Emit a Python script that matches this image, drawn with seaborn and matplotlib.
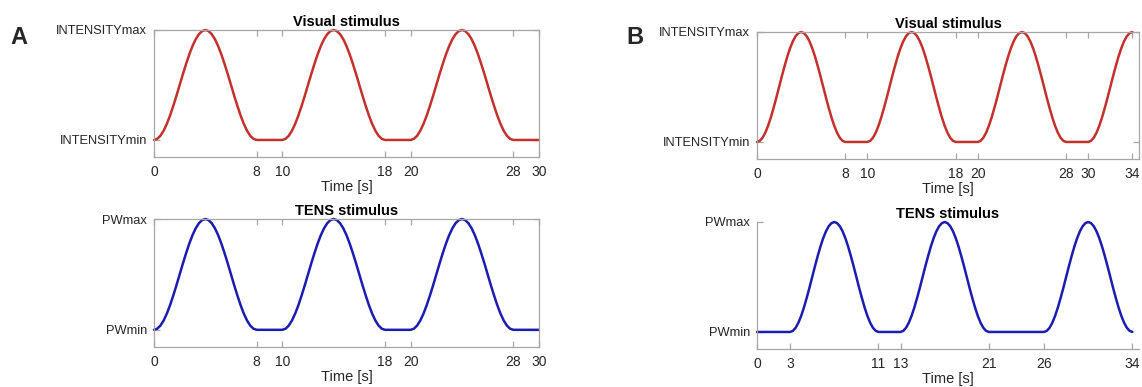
import numpy as np
import pandas as pd
import matplotlib
matplotlib.use("Agg")
import matplotlib.pyplot as plt
import seaborn as sns

# ---- data ----
# normalised pulse profile (0 = min, 1 = max), sampled every 0.25 s over an 8 s pulse
pulse_t = [0.0, 0.25, 0.5, 0.75, 1.0, 1.25, 1.5, 1.75, 2.0, 2.25, 2.5, 2.75,
           3.0, 3.25, 3.5, 3.75, 4.0, 4.25, 4.5, 4.75, 5.0, 5.25, 5.5, 5.75,
           6.0, 6.25, 6.5, 6.75, 7.0, 7.25, 7.5, 7.75, 8.0]
pulse_v = [0.0, 0.010, 0.038, 0.084, 0.146, 0.222, 0.309, 0.402, 0.5, 0.598,
           0.691, 0.778, 0.854, 0.916, 0.962, 0.990, 1.0, 0.990, 0.962, 0.916,
           0.854, 0.778, 0.691, 0.598, 0.5, 0.402, 0.309, 0.222, 0.146, 0.084,
           0.038, 0.010, 0.0]

# pulse onsets [s] and record end [s]
a_visual_onsets = [0, 10, 20]
a_tens_onsets = [0, 10, 20]
a_end = 30
b_visual_onsets = [0, 10, 20, 30]
b_tens_onsets = [3, 13, 26]
b_end = 34

a_xticks = [0, 8, 10, 18, 20, 28, 30]
b_visual_xticks = [0, 8, 10, 18, 20, 28, 30, 34]
b_tens_xticks = [0, 3, 11, 13, 21, 26, 34]

visual_ylabels = ["INTENSITYmin", "INTENSITYmax"]
tens_ylabels = ["PWmin", "PWmax"]


def build_series(onsets, end):
    ts, vs = [], []
    for on in onsets:
        for t, v in zip(pulse_t, pulse_v):
            tt = on + t
            if tt <= end:
                ts.append(tt)
                vs.append(v)
    if ts[0] > 0:
        ts.insert(0, 0.0)
        vs.insert(0, 0.0)
    if ts[-1] < end and vs[-1] == 0.0:
        ts.append(end)
        vs.append(0.0)
    return pd.DataFrame({"t": ts, "v": vs})


sns.set_theme(style="white")
plt.rcParams["font.family"] = ["Liberation Sans", "DejaVu Sans"]

RED = "#c4302b"
BLUE = "#1c1cb0"
SPINE = "#a6a6a6"
TXT = "#262626"

fig = plt.figure(figsize=(11.42, 3.87), dpi=100)

W, H = 1142, 387


def make_ax(left, right, top, bottom):
    return fig.add_axes([left / W, 1 - bottom / H, (right - left) / W, (bottom - top) / H])


def style(ax, xlim, xticks, ylabels, title, box=True):
    ax.set_xlim(*xlim)
    ax.set_ylim(-0.155, 1.0)
    ax.set_xticks(xticks)
    ax.set_xticklabels([str(x) for x in xticks])
    ax.set_yticks([0, 1])
    ax.set_yticklabels(ylabels)
    ax.set_xlabel("Time [s]", fontsize=10.5, color=TXT, labelpad=0.5)
    ax.set_ylabel("")
    ax.set_title(title, fontsize=10.5, fontweight="bold", color="black", pad=3)
    for s in ["left", "bottom", "top", "right"]:
        ax.spines[s].set_color(SPINE)
        ax.spines[s].set_linewidth(0.9)
        ax.spines[s].set_visible(True)
    common = dict(direction="in", length=4, width=0.9, color=SPINE,
                  labelcolor=TXT)
    if box:
        ax.tick_params(axis="both", top=True, right=True, bottom=True, left=True, **common)
    else:
        ax.spines["top"].set_visible(False)
        ax.spines["right"].set_visible(False)
        ax.tick_params(axis="both", top=False, right=False, bottom=True, left=True, **common)
    ax.tick_params(axis="x", pad=6, labelsize=10)
    ax.tick_params(axis="y", pad=5, labelsize=9.3)
    ax.grid(False)


panels = [
    # (left, right, top, bottom, onsets, end, xlim, xticks, ylabels, title, color, box)
    (154, 539, 30, 157, a_visual_onsets, a_end, (0, 30), a_xticks, visual_ylabels, "Visual stimulus", RED, True),
    (154, 539, 219, 347, a_tens_onsets, a_end, (0, 30), a_xticks, tens_ylabels, "TENS stimulus", BLUE, True),
    (757, 1139, 32, 159, b_visual_onsets, b_end, (0, 34.6), b_visual_xticks, visual_ylabels, "Visual stimulus", RED, True),
    (757, 1139, 222, 349, b_tens_onsets, b_end, (0, 34.6), b_tens_xticks, tens_ylabels, "TENS stimulus", BLUE, False),
]

for (l, r, t, b, onsets, end, xlim, xticks, ylabels, title, color, box) in panels:
    ax = make_ax(l, r, t, b)
    df = build_series(onsets, end)
    sns.lineplot(data=df, x="t", y="v", ax=ax, color=color, linewidth=1.8,
                 sort=False, estimator=None, clip_on=False)
    style(ax, xlim, xticks, ylabels, title, box)

fig.text(10 / W, 1 - 37 / H, "A", fontsize=17, fontweight="bold", va="center", ha="left")
fig.text(626 / W, 1 - 37 / H, "B", fontsize=17, fontweight="bold", va="center", ha="left")

fig.savefig("out.png", dpi=100, facecolor="white")
